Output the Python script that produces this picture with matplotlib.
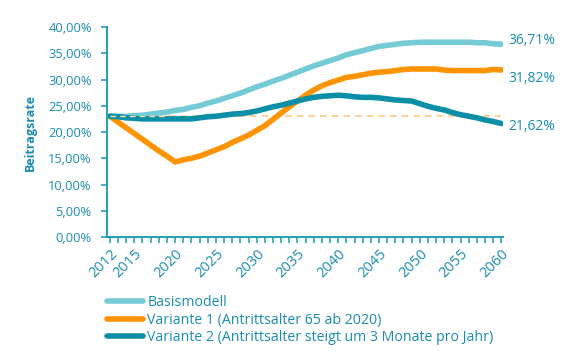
import matplotlib
matplotlib.use("Agg")
import matplotlib.pyplot as plt
from matplotlib.ticker import FuncFormatter

# data (Beitragsrate in %)
years = list(range(2012, 2061))
basis = [23.0, 23.0, 23.0, 23.1, 23.2, 23.4, 23.6, 23.8, 24.1, 24.3,
         24.7, 25.0, 25.5, 25.9, 26.4, 26.9, 27.4, 28.0, 28.6, 29.1,
         29.7, 30.2, 30.8, 31.4, 32.0, 32.6, 33.1, 33.6, 34.1, 34.7,
         35.1, 35.5, 35.9, 36.3, 36.5, 36.7, 36.9, 37.0, 37.1, 37.1,
         37.1, 37.1, 37.1, 37.1, 37.1, 37.0, 37.0, 36.8, 36.71]
variante1 = [23.0, 21.9, 20.8, 19.7, 18.6, 17.5, 16.4, 15.4, 14.3, 14.7,
             15.0, 15.4, 16.0, 16.6, 17.2, 18.0, 18.7, 19.4, 20.3, 21.2,
             22.4, 23.6, 24.8, 25.9, 27.0, 28.0, 28.8, 29.4, 29.9, 30.4,
             30.6, 30.9, 31.2, 31.4, 31.5, 31.7, 31.9, 32.0, 32.0, 32.0,
             32.0, 31.8, 31.7, 31.7, 31.7, 31.7, 31.7, 31.9, 31.82]
variante2 = [23.0, 22.9, 22.7, 22.6, 22.5, 22.5, 22.5, 22.5, 22.5, 22.5,
             22.5, 22.7, 22.9, 23.0, 23.2, 23.4, 23.5, 23.7, 24.0, 24.4,
             24.8, 25.1, 25.5, 25.9, 26.3, 26.6, 26.8, 26.9, 27.0, 26.9,
             26.7, 26.6, 26.6, 26.5, 26.3, 26.1, 26.0, 25.9, 25.4, 24.9,
             24.5, 24.2, 23.7, 23.3, 23.0, 22.7, 22.3, 22.0, 21.62]
baseline = 23.0
end_labels = ["36,71%", "31,82%", "21,62%"]
label_years = [2012, 2015, 2020, 2025, 2030, 2035, 2040, 2045, 2050, 2055, 2060]
names = ["Basismodell",
         "Variante 1 (Antrittsalter 65 ab 2020)",
         "Variante 2 (Antrittsalter steigt um 3 Monate pro Jahr)"]

TXT = "#1b8db0"
AX = "#2a9fb8"
colors = ["#74cbd6", "#ff9300", "#0a8fa6"]
label_shift = [3, -6.5, -2]  # vertical nudge of end labels (pt)

plt.rcParams["font.family"] = ["Open Sans", "DejaVu Sans"]

fig = plt.figure(figsize=(5.74, 3.62), dpi=100)
ax = fig.add_axes([107 / 574, 1 - 237 / 362, (503 - 107) / 574, (237 - 27) / 362])

ax.plot(years, [baseline] * len(years), color="#ffc98a", lw=1.2, ls=(0, (4, 3)), zorder=1)
series = [basis, variante1, variante2]
for vals, c, name in zip(series, colors, names):
    ax.plot(years, vals, color=c, lw=4, solid_capstyle="round", solid_joinstyle="round",
            label=name, zorder=2)
# dashes stay visible on top of the lines near the start
ax.plot(years[:8], [baseline] * 8, color="#ffd9a8", lw=1.0, ls=(0, (4, 3)), zorder=3)

for vals, txt, dy in zip(series, end_labels, label_shift):
    ax.annotate(txt, (years[-1], vals[-1]), xytext=(5, dy), textcoords="offset points",
                va="center", ha="left", color=TXT, fontsize=10)

ax.set_xlim(2011.65, 2060.2)
ax.set_ylim(0, 40)
ax.set_yticks(range(0, 41, 5))
ax.yaxis.set_major_formatter(FuncFormatter(lambda v, p: f"{v:.2f}".replace(".", ",") + "%"))
ax.set_xticks(years)
ax.set_xticklabels([str(y) if y in label_years else "" for y in years],
                   rotation=45, ha="right", rotation_mode="anchor")

for s in ["top", "right"]:
    ax.spines[s].set_visible(False)
for s in ["left", "bottom"]:
    ax.spines[s].set_color(AX)
    ax.spines[s].set_linewidth(1.5)
ax.tick_params(axis="both", colors=AX, labelcolor=TXT, width=1.2, length=4)
ax.tick_params(axis="y", labelsize=9.3, pad=7)
ax.tick_params(axis="x", labelsize=10.5, pad=3)

ax.set_ylabel("Beitragsrate", color=TXT, fontsize=9, fontweight="bold")
ax.yaxis.set_label_coords(-0.177, 0.5)

ax.legend(loc="upper left", bbox_to_anchor=(107 / 574, 1 - 295 / 362),
          bbox_transform=fig.transFigure, frameon=False, fontsize=10.2,
          labelcolor=TXT, handlelength=2.55, handletextpad=0.3, labelspacing=0.18,
          borderpad=0, borderaxespad=0)

fig.savefig("out.png", dpi=100)
